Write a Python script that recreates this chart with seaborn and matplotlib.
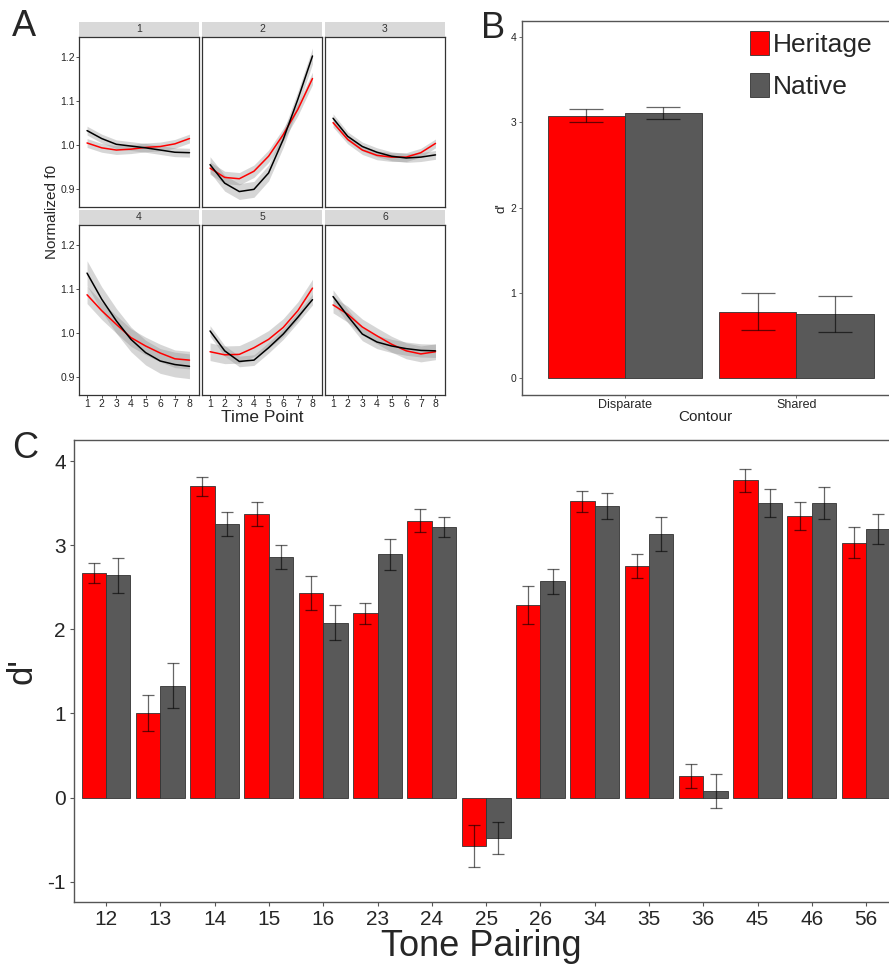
import numpy as np
import pandas as pd
import matplotlib
matplotlib.use('Agg')
import matplotlib.pyplot as plt
import seaborn as sns
from matplotlib.patches import Rectangle, Patch

# ---- panel A: normalized f0 contours per tone ----
time_points = [1, 2, 3, 4, 5, 6, 7, 8]
tones = ['1', '2', '3', '4', '5', '6']
heritage_f0 = [
    [1.005, 0.994, 0.989, 0.991, 0.995, 0.997, 1.003, 1.015],
    [0.948, 0.927, 0.924, 0.941, 0.975, 1.024, 1.081, 1.151],
    [1.051, 1.013, 0.989, 0.977, 0.973, 0.973, 0.983, 1.004],
    [1.087, 1.051, 1.020, 0.990, 0.971, 0.955, 0.942, 0.939],
    [0.958, 0.951, 0.952, 0.967, 0.986, 1.013, 1.051, 1.102],
    [1.064, 1.043, 1.014, 0.994, 0.975, 0.960, 0.953, 0.958],
]
native_f0 = [
    [1.033, 1.015, 1.002, 0.998, 0.994, 0.989, 0.984, 0.983],
    [0.956, 0.914, 0.895, 0.900, 0.937, 1.013, 1.104, 1.202],
    [1.061, 1.020, 0.997, 0.984, 0.975, 0.971, 0.973, 0.978],
    [1.136, 1.077, 1.028, 0.986, 0.956, 0.937, 0.929, 0.925],
    [1.005, 0.960, 0.936, 0.939, 0.967, 0.998, 1.036, 1.076],
    [1.083, 1.039, 0.998, 0.980, 0.971, 0.965, 0.961, 0.960],
]
heritage_band = [0.010, 0.014, 0.010, 0.020, 0.020, 0.018]
native_band = [0.010, 0.018, 0.010, 0.028, 0.012, 0.015]

# ---- panel B: d' by contour ----
contours = ['Disparate', 'Shared']
heritage_b = [3.08, 0.78]
native_b = [3.11, 0.75]
heritage_b_se = [0.08, 0.22]
native_b_se = [0.07, 0.215]

# ---- panel C: d' by tone pairing ----
pairs = ['12', '13', '14', '15', '16', '23', '24', '25', '26', '34', '35', '36', '45', '46', '56']
heritage_c = [2.67, 1.01, 3.70, 3.37, 2.43, 2.19, 3.29, -0.58, 2.29, 3.52, 2.75, 0.26, 3.77, 3.35, 3.03]
native_c = [2.64, 1.33, 3.25, 2.86, 2.08, 2.89, 3.22, -0.48, 2.57, 3.47, 3.13, 0.08, 3.50, 3.50, 3.19]
heritage_c_se = [0.12, 0.215, 0.11, 0.14, 0.20, 0.125, 0.135, 0.25, 0.23, 0.125, 0.145, 0.145, 0.135, 0.165, 0.185]
native_c_se = [0.21, 0.265, 0.145, 0.14, 0.21, 0.18, 0.12, 0.195, 0.15, 0.155, 0.20, 0.20, 0.17, 0.19, 0.175]

groups = ['Heritage', 'Native']
bar_colors = {'Heritage': '#FF0000', 'Native': '#595959'}
line_colors = {'Heritage': '#FF0000', 'Native': '#000000'}

sns.set_style('white')
plt.rcParams['font.family'] = ['Liberation Sans', 'DejaVu Sans']

W, H = 889, 967
fig = plt.figure(figsize=(W / 100, H / 100), dpi=100)


def add_ax(x0, y0, x1, y1):
    return fig.add_axes([x0 / W, 1 - y1 / H, (x1 - x0) / W, (y1 - y0) / H])


# ---------------- panel A ----------------
rows_f0 = []
for t, tone in enumerate(tones):
    for g, vals in zip(groups, [heritage_f0[t], native_f0[t]]):
        for tp, v in zip(time_points, vals):
            rows_f0.append({'tone': tone, 'group': g, 'time': tp, 'f0': v})
df_f0 = pd.DataFrame(rows_f0)

cols = [(79, 199), (202, 322), (325, 445)]
rows = [(37, 207), (225, 395)]
strip_px = 15
for i, tone in enumerate(tones):
    r, c = divmod(i, 3)
    ax = add_ax(cols[c][0], rows[r][0], cols[c][1], rows[r][1])
    sub = df_f0[df_f0['tone'] == tone]
    for g, band in zip(groups, [heritage_band[i], native_band[i]]):
        s = sub[sub['group'] == g]
        ax.fill_between(s['time'], s['f0'] - band, s['f0'] + band,
                        color='#8c8c8c', alpha=0.35, lw=0)
    sns.lineplot(data=sub, x='time', y='f0', hue='group', palette=line_colors,
                 legend=False, ax=ax, lw=1.1)
    ax.set_xlim(0.45, 8.65)
    ax.set_ylim(0.86, 1.245)
    ax.set_xticks(time_points)
    ax.set_yticks([0.9, 1.0, 1.1, 1.2])
    ax.set_xlabel('')
    ax.set_ylabel('')
    if r == 1:
        ax.set_xticklabels([str(t) for t in time_points])
    else:
        ax.set_xticklabels([])
    if c == 0:
        ax.set_yticklabels(['0.9', '1.0', '1.1', '1.2'])
    else:
        ax.set_yticklabels([])
    ax.tick_params(length=2, width=0.6, color='#333333', labelsize=7.5, pad=1,
                   left=(c == 0), bottom=(r == 1))
    for sp in ax.spines.values():
        sp.set_color('#333333')
        sp.set_linewidth(0.9)
    h = (rows[r][1] - rows[r][0])
    ax.add_patch(Rectangle((0, 1.0), 1, strip_px / h, transform=ax.transAxes,
                           facecolor='#D9D9D9', edgecolor='none', clip_on=False))
    ax.text(0.5, 1 + strip_px / h / 2, tone, transform=ax.transAxes,
            ha='center', va='center', fontsize=7.5, color='#333333')

fig.text(262 / W, 1 - 417 / H, 'Time Point', ha='center', va='center', fontsize=12.5)
fig.text(52 / W, 1 - 212 / H, 'Normalized f0', ha='center', va='center',
         rotation=90, fontsize=11)


def draw_bars(ax, cats, her, nat, her_se, nat_se, capsize, lw):
    df = pd.DataFrame({'cat': cats * 2,
                       'group': ['Heritage'] * len(cats) + ['Native'] * len(cats),
                       'd': her + nat})
    sns.barplot(data=df, x='cat', y='d', hue='group', palette=bar_colors,
                errorbar=None, width=0.9, edgecolor='#333333', linewidth=0.6,
                legend=False, ax=ax, saturation=1)
    for cont, vals, ses in zip(ax.containers, [her, nat], [her_se, nat_se]):
        for bar, v, s in zip(cont, vals, ses):
            xc = bar.get_x() + bar.get_width() / 2
            ax.errorbar(xc, v, yerr=s, color='black', alpha=0.6, lw=lw,
                        capsize=capsize, capthick=lw)
    for name, sp in ax.spines.items():
        sp.set_color('#555555')
        sp.set_linewidth(1.0)
    ax.spines['right'].set_visible(False)


# ---------------- panel B ----------------
axb = add_ax(522, 21, 889, 395)
draw_bars(axb, contours, heritage_b, native_b, heritage_b_se, native_b_se, 12, 0.9)
axb.set_xlim(-0.6, 1.54)
axb.set_ylim(-0.2, 4.19)
axb.set_yticks([0, 1, 2, 3, 4])
axb.set_yticklabels(['0', '1', '2', '3', '4'])
axb.tick_params(axis='y', length=2, width=0.6, color='#555555', labelsize=7.5, pad=2, left=True)
axb.tick_params(axis='x', length=2, width=0.6, color='#555555', labelsize=9, pad=1, bottom=True)
axb.set_xlabel('Contour', fontsize=11, labelpad=-1)
axb.set_ylabel("d'", fontsize=9.5, labelpad=2)
handles = [Patch(facecolor=bar_colors[g], edgecolor='#333333', lw=0.6) for g in groups]
axb.legend(handles, groups, loc='upper left', bbox_to_anchor=(0.62, 0.972),
           frameon=False, fontsize=19, handlelength=0.75, handleheight=1.0,
           handletextpad=0.15, labelspacing=0.6, borderpad=0, borderaxespad=0)

# ---------------- panel C ----------------
axc = add_ax(74, 440, 889, 902)
draw_bars(axc, pairs, heritage_c, native_c, heritage_c_se, native_c_se, 4, 0.9)
axc.set_xlim(-0.59, 14.42)
axc.set_ylim(-1.24, 4.25)
axc.set_yticks([-1, 0, 1, 2, 3, 4])
axc.set_yticklabels(['-1', '0', '1', '2', '3', '4'])
axc.tick_params(length=3, width=0.8, color='#555555', labelsize=15, pad=3,
                left=True, bottom=True)
axc.set_xlabel('Tone Pairing', fontsize=26, labelpad=0)
axc.set_ylabel("d'", fontsize=25, labelpad=6)

fig.text(12 / W, 1 - 27 / H, 'A', fontsize=26, va='center', ha='left')
fig.text(481 / W, 1 - 29 / H, 'B', fontsize=26, va='center', ha='left')
fig.text(12 / W, 1 - 448 / H, 'C', fontsize=26, va='center', ha='left')

fig.savefig('out.png', dpi=100)
